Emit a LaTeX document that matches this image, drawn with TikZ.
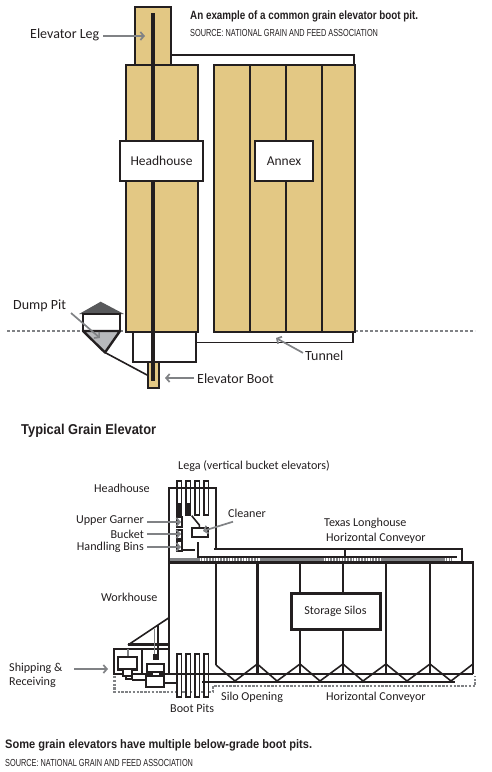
\documentclass[tikz,border=0pt]{standalone}
\usepackage{fontspec}
\setmainfont{Carlito}
\newfontfamily\headfont[FakeStretch=0.82]{Liberation Sans}
\newfontfamily\notefont[FakeStretch=0.9]{Liberation Sans}
\newfontfamily\srcfont[FakeStretch=0.72]{Liberation Sans}
\usetikzlibrary{arrows.meta,positioning}
\definecolor{grainGold}{HTML}{E3C884}
\definecolor{inkBlack}{HTML}{231F20}
\definecolor{leadGray}{HTML}{808285}
\definecolor{hopperGray}{HTML}{B8B9BC}
\definecolor{roofGray}{HTML}{58595B}

\begin{document}
\begin{tikzpicture}[
  x=1pt, y=-1pt,
  wall/.style={draw=inkBlack, line width=2.4pt},
  thinwall/.style={draw=inkBlack, line width=1.6pt},
  tube/.style={draw=inkBlack, line width=1.8pt, fill=white},
  gold/.style={wall, fill=grainGold},
  open/.style={wall, fill=white},
  core/.style={draw=inkBlack, line width=4.2pt},
  ground/.style={draw=leadGray, line width=1.3pt, dash pattern=on 3pt off 2pt},
  dots/.style={draw=leadGray, line width=2.2pt, dash pattern=on 2.4pt off 1.4pt},
  belt/.style={draw=leadGray, line width=2.6pt},
  ticks/.style={draw=leadGray, line width=2.6pt, dash pattern=on 1.6pt off 1.2pt},
  lead/.style={draw=leadGray, line width=1.7pt, -{Straight Barb[length=3.5pt,width=8pt]}},
  lbl/.style={inner sep=0pt, anchor=west, text=inkBlack, font=\fontsize{12.1}{14}\selectfont},
  biglbl/.style={lbl, font=\fontsize{14}{16}\selectfont},
  tag/.style={draw=inkBlack, line width=2.4pt, fill=white, inner sep=0pt, text=inkBlack, font=\fontsize{13.5}{15}\selectfont},
  head/.style={inner sep=0pt, anchor=west, text=inkBlack, font=\headfont\bfseries\fontsize{12}{14}\selectfont},
  src/.style={inner sep=0pt, anchor=west, text=inkBlack, font=\srcfont\fontsize{10.2}{12}\selectfont}
]
  \useasboundingbox (0,0) rectangle (492,772);

  % upper picture
  \draw[ground] (7,331) -- (83,331);
  \draw[ground] (120,331) -- (126,331);
  \draw[ground] (355,331) -- (475,331);
  \draw[thinwall] (171,55) -- (354,55) -- (354,65);
  \draw[thinwall] (196,342.5) -- (353,342.5) -- (353,332);
  \draw[gold] (135,7) rectangle (171,65);
  \draw[gold] (126,65) rectangle (198,332);
  \draw[gold] (214,65) rectangle (355,332);
  \foreach \xa in {250,286,322}
    \draw[wall] (\xa,65) -- (\xa,332);
  \draw[open] (133,332) rectangle (196,362);
  \draw[gold] (148,362) rectangle (159,388);
  \draw[core] (153,13) -- (153,381);
  \node[tag, minimum width=83pt, minimum height=40pt] (headhouse) at (161.5,161) {Headhouse};
  \node[tag, minimum width=58pt, minimum height=40pt] (annex) at (284,161) {Annex};

  % dump pit
  \fill[roofGray] (100.7,301.7) -- (124,314) -- (79,314) -- cycle;
  \draw[open] (83,314) rectangle (120,331);
  \draw[wall, fill=hopperGray, line join=round] (83,331) -- (120,331) -- (105,352.5) -- cycle;
  \draw[thinwall] (105,352.5) -- (148,375.5);

  \node[head] (title) at (190,16) {An example of a common grain elevator boot pit.};
  \node[src] (source) at (190,33) {SOURCE: NATIONAL GRAIN AND FEED ASSOCIATION};
  \node[biglbl] (legLbl) at (30,35) {Elevator Leg};
  \node[biglbl] (dumpLbl) at (13,306) {Dump Pit};
  \node[biglbl] (bootLbl) at (197,379) {Elevator Boot};
  \node[biglbl] (tunnelLbl) at (305,356) {Tunnel};
  \coordinate (legPt) at (145,36);
  \coordinate (dumpPt) at (100,338);
  \coordinate (bootPt) at (165,378);
  \coordinate (tunnelPt) at (276,338);
  \draw[lead] (legLbl.east)+(4,1) -- (legPt);
  \draw[lead] (71,313) -- (dumpPt);
  \draw[lead] (bootLbl.west)+(-3,-1) -- (bootPt);
  \draw[lead] (tunnelLbl.north west)+(-2,2) -- (tunnelPt);

  % lower picture
  \node[head, font=\notefont\bfseries\fontsize{14.3}{16}\selectfont] (typical) at (21,431) {Typical Grain Elevator};

  \draw[dots] (114.5,676) -- (114.5,692) -- (213,692) -- (213,686) -- (475,686) -- (475,676);
  \foreach \xa in {176.9,185.9,194.9,203.9}{
    \draw[tube] (\xa,515) -- (\xa,481) -- (\xa+4.5,481) -- (\xa+4.5,515) -- cycle;
    \draw[tube] (\xa,654) rectangle (\xa+4.5,697);
  }
  \fill[inkBlack] (176,503) rectangle (182.3,516);
  \fill[inkBlack] (185,503) rectangle (191.3,516);

  % workhouse and headhouse
  \draw[wall] (216,549) -- (216,488) -- (169,488) -- (169,674);
  \draw[wall] (216,562) -- (216,665);
  \foreach \ya/\yb in {517/527,530/539,541/551}
    \draw[thinwall, fill=white] (177,\ya) rectangle (182,\yb);
  \draw[thinwall] (182,550) -- (195,550);
  \draw[wall] (197.7,542) -- (197.7,557) -- (457,557);
  \draw[thinwall] (191.7,515.7) -- (199.3,525) -- (199.3,528);
  \draw[wall] (192,528) rectangle (208,537);

  % longhouse
  \draw[wall] (214,549) -- (462,549) -- (462,561);
  \draw[wall] (345,549) -- (345,557);
  \draw[belt] (170,559.6) -- (198,559.6);
  \draw[ticks] (198,559.6) -- (260,559.6);
  \draw[belt] (260,559.6) -- (322,559.6);
  \draw[ticks] (322,559.6) -- (382,559.6);
  \draw[belt] (382,559.6) -- (443,559.6);
  \draw[ticks] (443,559.6) -- (452,559.6);
  \draw[wall] (169,562.3) -- (473,562.3) -- (473,674);

  % silos
  \foreach \xa in {257.3,300,343,386,430}
    \draw[wall] (\xa,562) -- (\xa,674);
  \draw[wall] (113,674) -- (473,674);
  \draw[wall] (202,681.7) -- (455,681.7);
  \draw[thinwall] (216,665) -- (235,681) -- (257.3,664) -- (277,681) -- (300,664) -- (320,681) -- (343,664)
    -- (363,681) -- (386,664) -- (407,681) -- (430,664) -- (451,681) -- (473,664);
  \node[tag, line width=3pt, minimum width=89pt, minimum height=36pt] (silos) at (335.5,611) {\fontsize{12.1}{14}\selectfont Storage Silos};

  % shipping and receiving
  \draw[wall] (169,644.3) -- (128,644.3);
  \draw[thinwall] (128,645) -- (169,617.7);
  \draw[wall] (169,648.7) -- (113.7,648.7) -- (113.7,674);
  \draw[wall] (142,648.7) -- (142,674);
  \draw[draw=leadGray, line width=1.4pt] (128,649) -- (128,657);
  \draw[draw=leadGray, line width=1.2pt] (154.3,629) -- (154.3,654);
  \draw[thinwall] (157.7,625) -- (157.7,654);
  \fill[inkBlack] (153,654) rectangle (158.5,660);
  \draw[open] (118,657) rectangle (137,669.5);
  \draw[thinwall, fill=white] (123,669.5) rectangle (132,676);
  \draw[thinwall, fill=white] (126,676) rectangle (132,679);
  \draw[wall] (132,680) -- (146,680);
  \draw[open] (147,664) rectangle (164,672);
  \draw[thinwall, fill=white] (152,672) rectangle (160,676);
  \draw[open] (146,676) rectangle (164,687);
  \draw[wall] (164,683) -- (176,683);

  \node[lbl] (legaLbl) at (178,466) {Lega (vertical bucket elevators)};
  \node[lbl] (headLbl) at (94,488) {Headhouse};
  \node[lbl] (cleanerLbl) at (228,513) {Cleaner};
  \node[lbl, anchor=east] (garnerLbl) at (144,521) {Upper Garner};
  \node[lbl, anchor=east] (bucketLbl) at (144,534) {Bucket};
  \node[lbl, anchor=east] (binsLbl) at (144,547) {Handling Bins};
  \node[lbl] (longLbl) at (324,523) {Texas Longhouse};
  \node[lbl] (topbeltLbl) at (326,538) {Horizontal Conveyor};
  \node[lbl] (workLbl) at (101,597) {Workhouse};
  \node[lbl, align=left] (shipLbl) at (9,675) {Shipping \&\\Receiving};
  \node[lbl] (pitsLbl) at (170,708) {Boot Pits};
  \node[lbl] (openingLbl) at (221,697) {Silo Opening};
  \node[lbl] (beltLbl) at (326,697) {Horizontal Conveyor};
  \coordinate (cleanerPt) at (203,531);
  \coordinate (shipPt) at (108,669);
  \draw[lead] (233,521.7) -- (cleanerPt);
  \foreach \nm/\yy in {garnerLbl/522,bucketLbl/534,binsLbl/547}
    \draw[lead] (\nm.east |- 0,\yy)+(3,0) -- (181,\yy);
  \draw[lead] (74,669) -- (shipPt);

  \node[head, font=\notefont\bfseries\fontsize{12.3}{14}\selectfont] (note) at (5,745) {Some grain elevators have multiple below-grade boot pits.};
  \node[src] (source2) at (5,763) {SOURCE: NATIONAL GRAIN AND FEED ASSOCIATION};
\end{tikzpicture}
\end{document}
